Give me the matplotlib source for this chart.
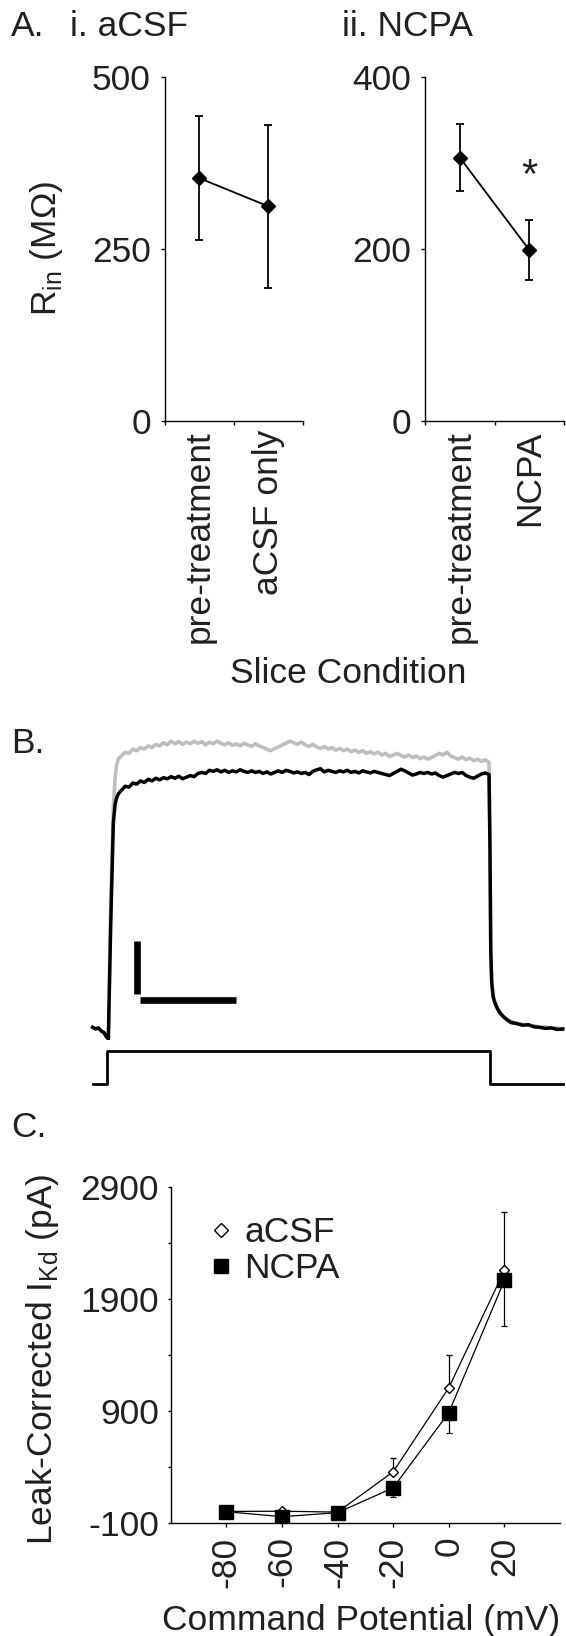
import numpy as np
import matplotlib
matplotlib.use('Agg')
import matplotlib.pyplot as plt
from matplotlib.lines import Line2D

plt.rcParams['font.family'] = ['Liberation Sans', 'DejaVu Sans']
plt.rcParams['mathtext.fontset'] = 'custom'
plt.rcParams['mathtext.rm'] = 'Liberation Sans'
plt.rcParams['axes.linewidth'] = 1.0
plt.rcParams['axes.unicode_minus'] = False

INK = '#231f20'
FS = 25.5

# ---- panel A: input resistance ----
acsf_cond = ['pre-treatment', 'aCSF only']
acsf_rin = [353, 312]
acsf_rin_err = [90, 118]
ncpa_cond = ['pre-treatment', 'NCPA']
ncpa_rin = [306, 199]
ncpa_rin_err = [39, 35]
star_level = 284

# ---- panel B: example current traces (ms, nA) and command step (ms, mV) ----
trace_t = [-15, -12, -9, -6, -3, -1, 1.4, 3.9, 6.6, 8.4, 10, 12,
           15, 19, 23, 27, 31, 35, 39, 43, 47, 51, 55, 59, 63, 67, 71, 75, 79, 83,
           87, 91, 95, 99, 103, 107, 111, 115, 119, 123, 127, 131, 135, 139, 143, 147,
           151, 155, 159, 163, 167, 171, 175, 179, 183, 187, 191, 195, 199, 203, 207,
           211, 215, 219, 223, 227, 231, 235, 239, 243, 247, 251, 255, 259, 263, 267,
           271, 275, 279, 283, 287, 291, 295, 299, 303, 307, 311, 315, 319, 323, 327,
           331, 335, 339, 343, 347, 351, 355, 359, 363, 367, 371, 375, 379, 383, 387,
           391, 395, 399,
           400, 400.8, 401.8, 403.4, 405, 407, 410, 414, 418, 422, 428, 434, 440,
           446, 452, 458, 464, 470, 476]
ncpa_trace = [0.05, 0.02, 0.04, -0.02, -0.05, -0.12, -0.17, 2.0, 3.9, 4.25, 4.38, 4.46,
              4.52, 4.60, 4.58, 4.66, 4.64, 4.70, 4.67, 4.73, 4.70, 4.75, 4.72, 4.76, 4.74, 4.78, 4.75, 4.79, 4.74, 4.77,
              4.80, 4.78, 4.84, 4.86, 4.84, 4.90, 4.88, 4.91, 4.87, 4.90, 4.86, 4.89, 4.87, 4.91, 4.88, 4.86,
              4.89, 4.86, 4.88, 4.84, 4.87, 4.83, 4.86, 4.89, 4.86, 4.90, 4.88, 4.85, 4.87, 4.84, 4.86,
              4.82, 4.88, 4.91, 4.93, 4.87, 4.90, 4.88, 4.86, 4.89, 4.87, 4.90, 4.86, 4.88, 4.85, 4.89,
              4.87, 4.85, 4.88, 4.86, 4.84, 4.82, 4.80, 4.84, 4.88, 4.92, 4.89, 4.85, 4.81, 4.83, 4.86,
              4.84, 4.86, 4.83, 4.85, 4.80, 4.77, 4.80, 4.83, 4.86, 4.84, 4.86, 4.80, 4.77, 4.75, 4.79,
              4.83, 4.85, 4.82,
              3.4, 1.5, 0.89, 0.62, 0.52, 0.43, 0.33, 0.25, 0.19, 0.14, 0.12, 0.09, 0.10,
              0.06, 0.05, 0.03, 0.04, 0.01, 0.02]
acsf_trace = [0.05, 0.02, 0.04, -0.02, -0.05, -0.12, -0.17, 2.4, 4.2, 4.75, 5.0, 5.12,
              5.17, 5.24, 5.22, 5.30, 5.27, 5.33, 5.30, 5.36, 5.33, 5.39, 5.36, 5.42, 5.38, 5.45, 5.40, 5.44, 5.39, 5.43,
              5.40, 5.45, 5.41, 5.44, 5.38, 5.43, 5.40, 5.45, 5.41, 5.38, 5.42, 5.37, 5.40, 5.36, 5.41, 5.38,
              5.35, 5.40, 5.36, 5.33, 5.30, 5.27, 5.31, 5.34, 5.38, 5.41, 5.45, 5.42, 5.39, 5.43, 5.38,
              5.35, 5.39, 5.34, 5.31, 5.35, 5.30, 5.33, 5.28, 5.31, 5.27, 5.30, 5.25, 5.28, 5.24, 5.27,
              5.22, 5.25, 5.21, 5.24, 5.19, 5.22, 5.16, 5.19, 5.22, 5.18, 5.15, 5.19, 5.14, 5.17, 5.12,
              5.15, 5.11, 5.14, 5.18, 5.22, 5.19, 5.24, 5.17, 5.14, 5.11, 5.15, 5.10, 5.13, 5.08, 5.11,
              5.07, 5.10, 5.05,
              3.6, 1.6, 0.92, 0.64, 0.54, 0.45, 0.35, 0.26, 0.20, 0.16, 0.13, 0.11, 0.09,
              0.08, 0.05, 0.06, 0.03, 0.04, 0.01]
cmd_t = [-15, 0, 0, 400, 400, 476]
cmd_mv = [-80, -80, 20, 20, -80, -80]
bar_nA = 1.0
bar_ms = 100

# ---- panel C: I-V relation ----
v_cmd = [-80, -60, -40, -20, 0, 20]
acsf_ikd = [6, 8, 0, 360, 1110, 2158]
acsf_ikd_err = [15, 20, 15, 120, 295, 520]
ncpa_ikd = [4, -41, -5, 217, 888, 2069]
ncpa_ikd_err = [15, 15, 15, 79, 180, 411]

W, H = 566, 1636
fig = plt.figure(figsize=(W / 100, H / 100), dpi=100)


def box(l, r, t, b):
    return [l / W, 1 - b / H, (r - l) / W, (b - t) / H]


def panel_a(rect, cond, mean, err, ymax):
    ax = fig.add_axes(rect)
    pos = [0.5, 1.5]
    ax.errorbar(pos, mean, yerr=err, color='black', lw=1.3, marker='D', ms=7.5,
                capsize=2.6, capthick=1.3, elinewidth=1.3)
    ax.set_xlim(0, 2)
    ax.set_ylim(0, ymax)
    ax.set_yticks([0, ymax / 2, ymax])
    ax.set_yticklabels(['0', '%d' % (ymax / 2), '%d' % ymax])
    ax.set_xticks([0, 1, 2])
    ax.set_xticklabels([])
    ax.set_xticks(pos, minor=True)
    ax.set_xticklabels(cond, minor=True, rotation=90, va='top', ha='center')
    ax.tick_params(axis='x', which='minor', length=0, pad=6.5, labelsize=FS, labelcolor=INK)
    ax.tick_params(axis='x', which='major', direction='out', length=3, width=1)
    ax.tick_params(axis='y', direction='out', length=3, width=1, pad=7, labelsize=FS, labelcolor=INK)
    for s in ['top', 'right']:
        ax.spines[s].set_visible(False)
    return ax


axA1 = panel_a(box(164.8, 302.9, 77, 421), acsf_cond, acsf_rin, acsf_rin_err, 500)
axA2 = panel_a(box(425.4, 563.8, 77, 421), ncpa_cond, ncpa_rin, ncpa_rin_err, 400)
axA2.text(1.5, star_level, '*', ha='center', va='center', fontsize=30, color=INK)

fig.text(10.8 / W, 1 - 36 / H, 'A.', fontsize=FS, color=INK, va='baseline')
fig.text(70.5 / W, 1 - 36 / H, 'i. aCSF', fontsize=FS, color=INK, va='baseline')
fig.text(341.5 / W, 1 - 36 / H, 'ii. NCPA', fontsize=FS, color=INK, va='baseline')
fig.text(47 / W, 1 - 248 / H, r'R$_\mathregular{in}$ (M$\Omega$)', rotation=90,
         fontsize=FS, color=INK, ha='center', va='center')
fig.text(348 / W, 1 - 683 / H, 'Slice Condition', fontsize=FS, color=INK,
         ha='center', va='baseline')

# ---- panel B ----
axB = fig.add_axes(box(80, 566, 720, 1040))
axB.plot(trace_t, acsf_trace, color='#bcbec0', lw=2.6)
axB.plot(trace_t, ncpa_trace, color='black', lw=2.5)
axB.plot([31.3, 31.3], [0.68, 0.68 + bar_nA], color='black', lw=4.8, solid_capstyle='butt')
axB.plot([34.5, 34.5 + bar_ms], [0.57, 0.57], color='black', lw=4.8, solid_capstyle='butt')
axB.set_xlim(-28.2, 479.4)
axB.set_ylim(-0.189, 5.849)
axB.axis('off')

axCmd = fig.add_axes(box(80, 566, 1045, 1092))
axCmd.plot(cmd_t, cmd_mv, color='black', lw=2.0)
axCmd.set_xlim(-28.2, 479.4)
axCmd.set_ylim(-104.2, 38.2)
axCmd.axis('off')

fig.text(10.8 / W, 1 - 753 / H, 'B.', fontsize=FS, color=INK, va='baseline')

# ---- panel C ----
axC = fig.add_axes(box(170.7, 560, 1187.4, 1523.3))
axC.errorbar(v_cmd, acsf_ikd, yerr=[[0] * 6, acsf_ikd_err], color='black', lw=0.9,
             marker='D', ms=5.5, mfc='white', mec='black', mew=1.0,
             capsize=2.5, capthick=0.9, elinewidth=0.9)
axC.errorbar(v_cmd, ncpa_ikd, yerr=[ncpa_ikd_err, [0] * 6], color='black', lw=0.9,
             marker='s', ms=9.5, mfc='black', mec='black',
             capsize=2.5, capthick=0.9, elinewidth=0.9)
axC.set_xlim(-100, 40)
axC.set_ylim(-100, 2900)
axC.set_xticks(v_cmd)
axC.set_xticklabels([str(v) for v in v_cmd], rotation=90, va='top', ha='center')
axC.set_yticks([-100, 900, 1900, 2900])
axC.set_yticks([400, 1400, 2400], minor=True)
axC.tick_params(axis='x', direction='out', length=3, width=1, pad=6.5,
                labelsize=FS, labelcolor=INK)
axC.tick_params(axis='y', which='both', direction='out', length=2.5, width=1, pad=6,
                labelsize=FS, labelcolor=INK)
for s in ['top', 'right']:
    axC.spines[s].set_visible(False)

handles = [Line2D([], [], marker='D', ls='none', ms=7.3, mfc='white', mec='black', mew=1.0),
           Line2D([], [], marker='s', ls='none', ms=9.5, mfc='black', mec='black')]
axC.legend(handles, ['aCSF', 'NCPA'], loc='upper left', bbox_to_anchor=(0.093, 0.915),
           frameon=False, fontsize=FS, handlelength=0.8, handletextpad=0.25,
           borderpad=0, borderaxespad=0, labelspacing=0.1, labelcolor=INK)

fig.text(11 / W, 1 - 1137 / H, 'C.', fontsize=FS, color=INK, va='baseline')
fig.text(43 / W, 1 - 1359 / H, r'Leak-Corrected I$_\mathregular{Kd}$ (pA)', rotation=90,
         fontsize=FS, color=INK, ha='center', va='center')
fig.text(361 / W, 1 - 1630 / H, 'Command Potential (mV)', fontsize=FS, color=INK,
         ha='center', va='baseline')

fig.savefig('out.png', dpi=100)
